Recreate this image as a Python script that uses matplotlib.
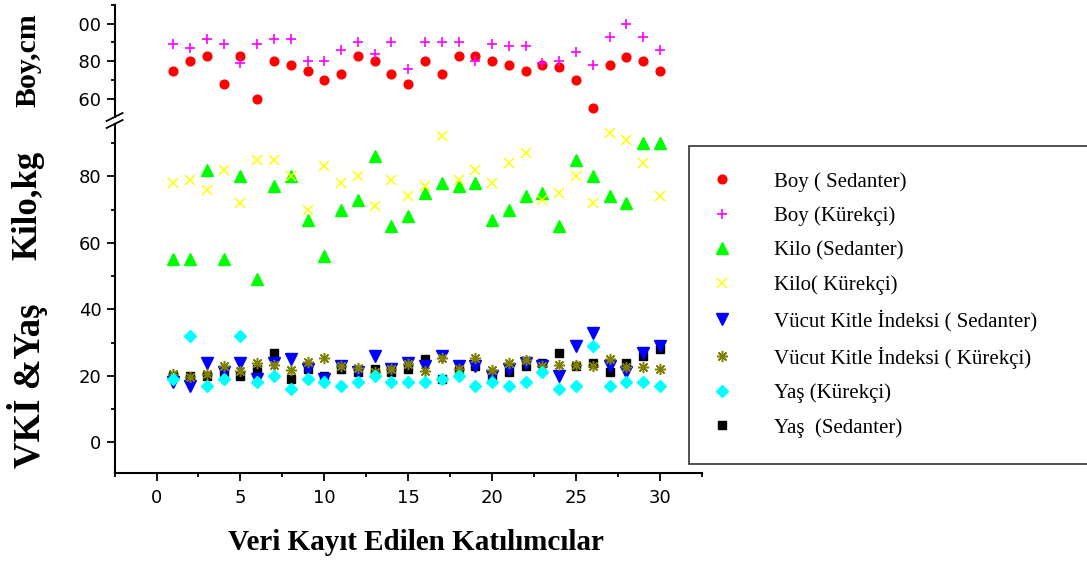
import matplotlib
matplotlib.use("Agg")
import matplotlib.pyplot as plt
from matplotlib.lines import Line2D
from matplotlib.ticker import FixedLocator, MultipleLocator
from matplotlib.transforms import Bbox
from matplotlib import font_manager
from matplotlib.font_manager import FontProperties
from matplotlib.ft2font import FT2Font

# ---- data -------------------------------------------------------------
participants = list(range(1, 31))

boy_sedanter = [175, 180, 183, 168, 183, 160, 180, 178, 175, 170,
                173, 183, 180, 173, 168, 180, 173, 183, 183, 180,
                178, 175, 178, 177, 170, 155, 178, 182, 180, 175]
boy_kurekci = [189, 187, 192, 189, 179, 189, 192, 192, 180, 180,
               186, 190, 184, 190, 176, 190, 190, 190, 180, 189,
               188, 188, 179, 180, 185, 178, 193, 200, 193, 186]

kilo_sedanter = [55, 55, 82, 55, 80, 49, 77, 80, 67, 56,
                 70, 73, 86, 65, 68, 75, 78, 77, 78, 67,
                 70, 74, 75, 65, 85, 80, 74, 72, 90, 90]
kilo_kurekci = [78, 79, 76, 82, 72, 85, 85, 80, 70, 83,
                78, 80, 71, 79, 74, 77, 92, 79, 82, 78,
                84, 87, 73, 75, 80, 72, 93, 91, 84, 74]

vki_sedanter = [18, 17, 24, 21, 24, 19, 24, 25, 22, 19,
                23, 21, 26, 22, 24, 23, 26, 23, 23, 20,
                22, 24, 23, 20, 29, 33, 23, 21, 27, 29]
vki_kurekci = [20.5, 19.5, 20.4, 23.0, 21.5, 23.9, 23.2, 21.7, 24.3, 25.5,
               22.9, 22.4, 21.2, 21.9, 23.5, 21.4, 25.5, 21.9, 25.4, 21.7,
               24.0, 24.7, 22.9, 23.2, 23.4, 23.0, 25.2, 22.7, 22.5, 22.0]

yas_kurekci = [19, 32, 17, 19, 32, 18, 20, 16, 19, 18,
               17, 18, 20, 18, 18, 18, 19, 20, 17, 18,
               17, 18, 21, 16, 17, 29, 17, 18, 18, 17]
yas_sedanter = [20, 20, 20, 21, 20, 22, 27, 19, 22, 20,
                22, 21, 22, 21, 22, 25, 19, 22, 23, 20,
                21, 23, 24, 27, 23, 24, 21, 24, 26, 28]

labels = ["Boy ( Sedanter)", "Boy (Kürekçi)", "Kilo (Sedanter)",
          "Kilo( Kürekçi)", "Vücut Kitle İndeksi ( Sedanter)",
          "Vücut Kitle İndeksi ( Kürekçi)", "Yaş (Kürekçi)",
          "Yaş  (Sedanter)"]

x_major = [0, 5, 10, 15, 20, 25, 30]
lower_major = [0, 20, 40, 60, 80]
upper_major = [160, 180, 200]

# ---- fonts ------------------------------------------------------------
def pick(*names):
    for n in names:
        try:
            font_manager.findfont(n, fallback_to_default=False)
            return n
        except Exception:
            continue
    return "DejaVu Sans"


SERIF = pick("Liberation Serif", "DejaVu Serif")

DIGIT_H = 15.5   # wanted digit height, px
DIGIT_ADV = 9.8  # wanted digit advance, px
SANS_FAMILIES = ("Liberation Sans Narrow", "Liberation Sans", "DejaVu Sans",
                 "Noto Sans", "Roboto", "Open Sans", "Lato", "Inter", "Arimo")


def digit_metrics(path):
    f = FT2Font(path)
    f.set_size(100, 72)
    g = f.load_char(ord("8"))
    return g.horiAdvance / 64.0 / 100.0, g.height / 64.0 / 100.0


def tick_font():
    """Narrowest regular grotesque face available, sized by digit height."""
    best = None
    for f in font_manager.fontManager.ttflist:
        if f.name not in SANS_FAMILIES:
            continue
        if f.style != "normal" or f.weight not in (400, "normal", "regular"):
            continue
        try:
            adv, hgt = digit_metrics(f.fname)
        except Exception:
            continue
        if not (0.3 < adv < 0.75 and 0.6 < hgt < 0.8):
            continue
        score = abs(hgt / adv - DIGIT_H / DIGIT_ADV)
        if best is None or score < best[0]:
            best = (score, f.fname, adv, hgt)
    if best is None:
        return FontProperties(family="DejaVu Sans", size=13)
    _, path, adv, hgt = best
    em = min(DIGIT_H / hgt, DIGIT_ADV / adv * 1.15)
    return FontProperties(fname=path, size=em * 72 / 100)


tick_fp = tick_font()

W, H = 1087, 562
fig = plt.figure(figsize=(W / 100, H / 100), dpi=100)


def fx(px):
    return px / W


def fy(py):
    return 1 - py / H


left, right = 114.6, 701.8
ax_top = fig.add_axes([fx(left), fy(117), fx(right) - fx(left), fy(4.7) - fy(117)])
ax_bot = fig.add_axes([fx(left), fy(472.7), fx(right) - fx(left), fy(124) - fy(472.7)],
                      sharex=ax_top)

for a in (ax_top, ax_bot):
    a.set_facecolor("none")
    for s in ("top", "right"):
        a.spines[s].set_visible(False)
    a.spines["left"].set_linewidth(1.5)
    a.spines["bottom"].set_linewidth(1.5)
    a.tick_params(axis="both", which="major", direction="out", length=5.5,
                  width=1.3, pad=4.0, colors="black")
    a.tick_params(axis="both", which="minor", direction="out", length=3,
                  width=1.3)
ax_bot.tick_params(axis="x", which="major", pad=6.0)
ax_top.spines["bottom"].set_visible(False)
ax_top.tick_params(axis="x", which="both", bottom=False, labelbottom=False)

ax_bot.set_xlim(-2.5, 32.5)
ax_bot.xaxis.set_major_locator(FixedLocator(x_major))
ax_bot.xaxis.set_minor_locator(MultipleLocator(2.5))
ax_bot.set_ylim(-9.14, 95.73)
ax_bot.yaxis.set_major_locator(FixedLocator(lower_major))
ax_bot.yaxis.set_minor_locator(FixedLocator([10, 30, 50, 70, 90]))
ax_top.set_ylim(150.24, 210.13)
ax_top.yaxis.set_major_locator(FixedLocator(upper_major))
ax_top.yaxis.set_minor_locator(FixedLocator([170, 190, 210]))

for lab in ax_bot.get_xticklabels() + ax_bot.get_yticklabels() + ax_top.get_yticklabels():
    lab.set_fontproperties(tick_fp)

# series (black squares sit underneath the rest)
kw = dict(linestyle="none")
h_yas_s, = ax_bot.plot(participants, yas_sedanter, marker="s", ms=5.2,
                       color="black", zorder=2, **kw)
h_boy_s, = ax_top.plot(participants, boy_sedanter, marker="o", ms=6.3,
                       color="#ff0000", zorder=3, **kw)
h_boy_k, = ax_top.plot(participants, boy_kurekci, marker="+", ms=7.5, mew=1.2,
                       color="#ff00ff", zorder=4, **kw)
h_kilo_s, = ax_bot.plot(participants, kilo_sedanter, marker="^", ms=8,
                        color="#00ff00", zorder=3, **kw)
h_kilo_k, = ax_bot.plot(participants, kilo_kurekci, marker="x", ms=7, mew=1.1,
                        color="#ffff00", zorder=4, **kw)
h_vki_s, = ax_bot.plot(participants, vki_sedanter, marker="v", ms=8,
                       color="#0000ff", zorder=5, **kw)
h_vki_k, = ax_bot.plot(participants, vki_kurekci, marker=(8, 2, 0), ms=8, mew=1.1,
                       color="#808000", zorder=6, **kw)
h_yas_k, = ax_bot.plot(participants, yas_kurekci, marker="D", ms=6.5,
                       color="#00ffff", zorder=7, **kw)

# axis break marks on the left spine
for yb in (117, 124):
    fig.add_artist(Line2D([fx(left - 8), fx(left + 8)], [fy(yb + 4), fy(yb - 4)],
                          color="black", lw=1.3))

# axis titles
fig.text(fx(28), fy(60), "Boy,cm", rotation=90, ha="center", va="center",
         family=SERIF, weight="bold", fontsize=21.5)
fig.text(fx(28), fy(205), "Kilo,kg", rotation=90, ha="center", va="center",
         family=SERIF, weight="bold", fontsize=25)
fig.text(fx(28), fy(386), "VKİ &Yaş", rotation=90, ha="center", va="center",
         family=SERIF, weight="bold", fontsize=26.5)
fig.text(fx(415.5), fy(542), "Veri Kayıt Edilen Katılımcılar", ha="center",
         va="center", family=SERIF, weight="bold", fontsize=21)

# legend box running off the right edge
handles = [h_boy_s, h_boy_k, h_kilo_s, h_kilo_k, h_vki_s, h_vki_k, h_yas_k, h_yas_s]
leg = fig.legend(handles, labels, loc="upper left",
                 bbox_to_anchor=(fx(689.3), 0, 0.5, fy(146)), mode="expand",
                 borderaxespad=0, borderpad=1.25, handlelength=0.64,
                 handletextpad=2.16, labelspacing=0.71, frameon=True,
                 fancybox=False, prop={"family": SERIF, "size": 15})
leg.get_frame().set_edgecolor("black")
leg.get_frame().set_linewidth(1.2)

fig.canvas.draw()
# the leading digit of the upper tick labels falls outside the margin
for t in ax_top.yaxis.get_major_ticks():
    bb = t.label1.get_window_extent()
    cut = bb.x1 - (bb.x1 - bb.x0) * 2.0 / 3.0 - 0.5
    t.label1.set_clip_box(Bbox.from_extents(cut, 0, W, H))
    t.label1.set_clip_on(True)

fig.savefig("out.png", dpi=100)
